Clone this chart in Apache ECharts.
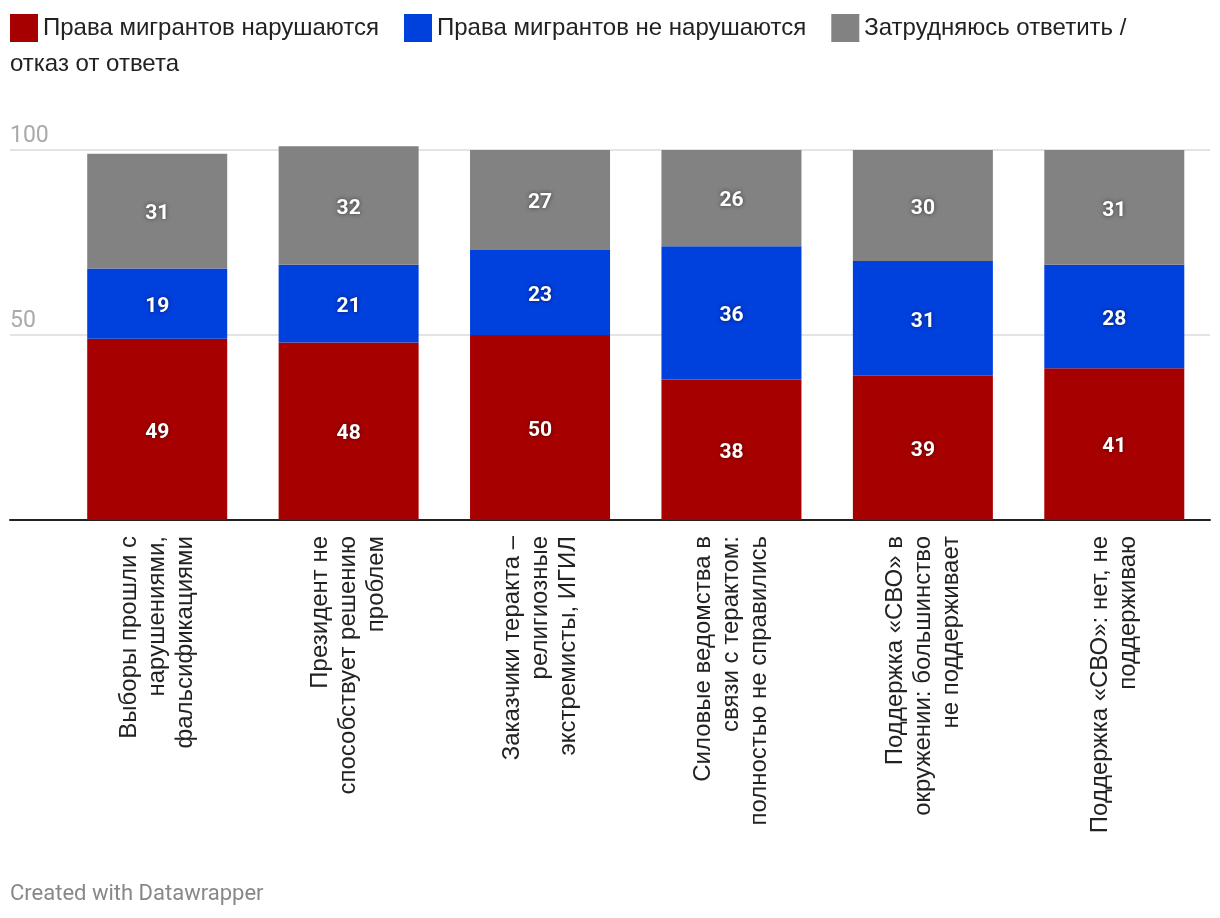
<!DOCTYPE html>
<html>
<head>
<meta charset="utf-8">
<script src="https://cdn.jsdelivr.net/npm/echarts@6/dist/echarts.min.js"></script>
<style>html,body{margin:0;padding:0;background:#fff}#c{width:1220px;height:918px}</style>
</head>
<body>
<div id="c"></div>
<script>
const categories = [
  "Выборы прошли с\nнарушениями,\nфальсификациями",
  "Президент не\nспособствует решению\nпроблем",
  "Заказчики теракта –\nрелигиозные\nэкстремисты, ИГИЛ",
  "Силовые ведомства в\nсвязи с терактом:\nполностью не справились",
  "Поддержка «СВО» в\nокружении: большинство\nне поддерживает",
  "Поддержка «СВО»: нет, не\nподдерживаю"
];
const seriesNames = ["Права мигрантов нарушаются", "Права мигрантов не нарушаются", "Затрудняюсь ответить / отказ от ответа"];
const violated = [49, 48, 50, 38, 39, 41];
const notViolated = [19, 21, 23, 36, 31, 28];
const hardToSay = [31, 32, 27, 26, 30, 31];
const yTicks = [0, 50, 100];
const colors = ["#a70000", "#0040dd", "#828282"];

const chart = echarts.init(document.getElementById('c'), null, {renderer: 'canvas'});
const labelCfg = {
  show: true, position: 'inside', offset: [0, 3], color: '#fff', fontFamily: 'Roboto', fontWeight: 'bold', fontSize: 21,
  textShadowColor: 'rgba(0,0,0,0.55)', textShadowBlur: 4
};
function barSeries(name, data, color) {
  return {
    name: name, type: 'bar', stack: 'total', data: data, xAxisIndex: 1, yAxisIndex: 1,
    barWidth: 140, clip: false, itemStyle: {color: color}, label: labelCfg,
    emphasis: {disabled: true}, animation: false
  };
}
chart.setOption({
  animation: false,
  backgroundColor: '#fff',
  legend: {
    left: 10, top: 14, padding: 0, itemWidth: 28, itemHeight: 28, itemGap: 25, icon: 'rect',
    textStyle: {fontSize: 24, color: '#222', fontFamily: 'Liberation Sans'},
    data: seriesNames,
    formatter: function (n) { return n === seriesNames[2] ? 'Затрудняюсь ответить /' : n; },
    selectedMode: false
  },
  graphic: [
    {type: 'text', left: 10, top: 52, style: {text: 'отказ от ответа', font: '24px "Liberation Sans"', fill: '#222'}},
    {type: 'text', left: 10, top: 883, style: {text: 'Created with Datawrapper', font: '22px Roboto', fill: '#888'}}
  ],
  grid: [
    {left: 10, right: 10, top: 150, height: 370},
    {left: 61.5, right: 10, top: 150, height: 370}
  ],
  xAxis: [
    {gridIndex: 0, type: 'value', min: 0, max: 1, axisLabel: {show: false}, axisTick: {show: false},
     splitLine: {show: false}, axisLine: {show: true, lineStyle: {color: '#222', width: 2}}},
    {gridIndex: 1, type: 'category', data: categories, axisLine: {show: false}, axisTick: {show: false},
     axisLabel: {rotate: 90, margin: 16, fontSize: 24, lineHeight: 28, color: '#222', fontFamily: 'Liberation Sans', interval: 0}}
  ],
  yAxis: [
    {gridIndex: 0, type: 'value', min: yTicks[0], max: yTicks[2], interval: 50,
     axisLine: {show: false}, axisTick: {show: false},
     splitLine: {show: true, lineStyle: {color: '#e4e4e4', width: 2}},
     axisLabel: {inside: true, margin: 0, align: 'left', verticalAlign: 'bottom', padding: [0, 0, 2, 0],
       fontSize: 23, color: '#aaa', fontFamily: 'Roboto',
       formatter: function (v) { return v === 0 ? '' : String(v); }}},
    {gridIndex: 1, type: 'value', min: 0, max: 100, show: false, splitLine: {show: false}}
  ],
  series: [
    {type: 'line', xAxisIndex: 0, yAxisIndex: 0, data: [], silent: true},
    barSeries(seriesNames[0], violated, colors[0]),
    barSeries(seriesNames[1], notViolated, colors[1]),
    barSeries(seriesNames[2], hardToSay, colors[2])
  ]
});
</script>
</body>
</html>
